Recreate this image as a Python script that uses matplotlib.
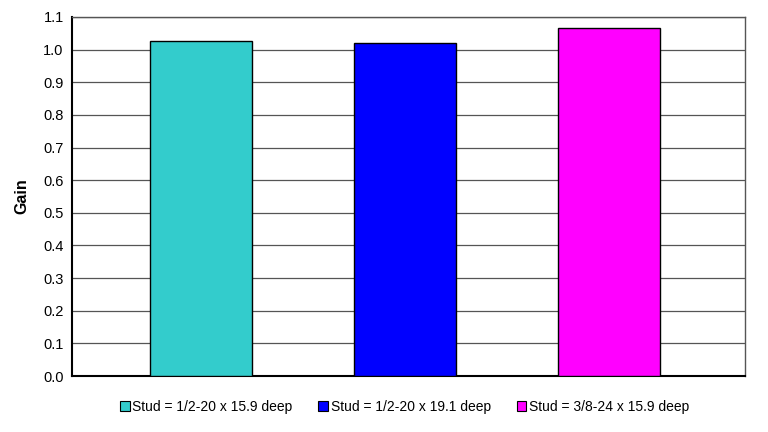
import matplotlib
matplotlib.use("Agg")
import matplotlib.pyplot as plt
from matplotlib.patches import Patch

# ----------------------------
# Data
# ----------------------------
labels = ["Stud = 1/2-20 x 15.9 deep",
          "Stud = 1/2-20 x 19.1 deep",
          "Stud = 3/8-24 x 15.9 deep"]
gains = [1.025, 1.020, 1.066]
colors = ["#33CCCC", "#0000FF", "#FF00FF"]
yticks = [0.0, 0.1, 0.2, 0.3, 0.4, 0.5, 0.6, 0.7, 0.8, 0.9, 1.0, 1.1]

plt.rcParams['font.family'] = ['Liberation Sans', 'DejaVu Sans']

fig = plt.figure(figsize=(7.68, 4.32), dpi=100)
ax = fig.add_axes([72 / 768, 1 - 376 / 432, (745 - 72) / 768, (376 - 17) / 432])

x = list(range(len(gains)))
ax.bar(x, gains, width=0.5, color=colors, edgecolor="black", linewidth=1.0, zorder=3)

ax.set_xlim(-0.63, 2.665)
ax.set_ylim(0, 1.1)
ax.set_yticks(yticks)
ax.set_yticklabels([f"{v:.1f}" for v in yticks], fontsize=10.5, color="#000000")
ax.set_xticks([])
ax.tick_params(axis='y', length=0, pad=6)
ax.grid(axis='y', color="#555555", linewidth=0.9, zorder=0)
for s in ax.spines.values():
    s.set_color("#555555")
    s.set_linewidth(1.0)
ax.spines['left'].set_color("#000000")
ax.spines['left'].set_linewidth(1.5)
ax.spines['bottom'].set_color("#000000")
ax.spines['bottom'].set_linewidth(1.5)

ax.set_ylabel("Gain", fontsize=11.5, fontweight='bold', labelpad=10)

# Legend at the bottom
handles = [Patch(facecolor=c, edgecolor="black", linewidth=0.8) for c in colors]
fig.legend(handles, labels, loc='center', bbox_to_anchor=(0.527, 1 - 407 / 432),
           ncol=3, frameon=False, fontsize=10, handlelength=0.7, handleheight=0.7,
           handletextpad=0.2, columnspacing=1.85)

fig.savefig("out.png", dpi=100)
